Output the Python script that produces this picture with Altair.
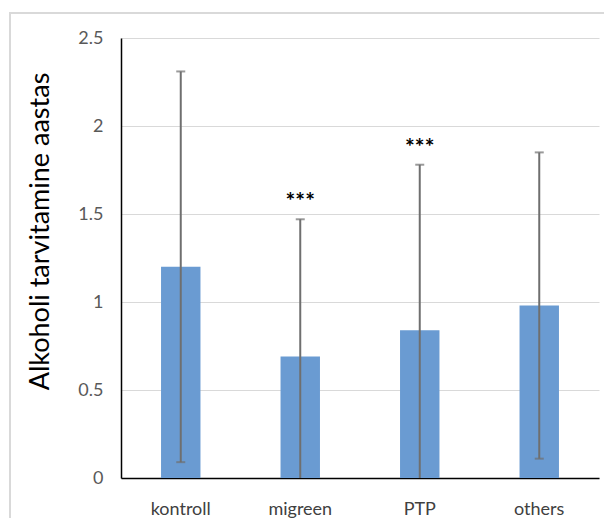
import altair as alt
import pandas as pd

categories = ["kontroll", "migreen", "PTP", "others"]
means = [1.20, 0.69, 0.84, 0.98]
sds = [1.11, 0.78, 0.94, 0.87]
sig = ["", "***", "***", ""]

df = pd.DataFrame({
    "group": categories,
    "mean": means,
    "lo": [m - s for m, s in zip(means, sds)],
    "hi": [m + s for m, s in zip(means, sds)],
    "sig": sig,
})

FONT = "Lato"
ERRC = "#6F6F6F"
yscale = alt.Scale(domain=[0, 2.5], nice=False)
xsort = alt.X("group:N", sort=categories)

xenc = alt.X("group:N", sort=categories,
             scale=alt.Scale(paddingInner=0.67, paddingOuter=0.335),
             axis=alt.Axis(title=None, labelAngle=0, labelFontSize=18, labelColor="#404040",
                           labelFont=FONT, labelPadding=22, ticks=False, domainColor="#000000",
                           domainWidth=1.5))

bars = alt.Chart(df).mark_bar(color="#6A9BD2").encode(
    x=xenc,
    y=alt.Y("mean:Q", scale=yscale,
            axis=alt.Axis(values=[0, 0.5, 1, 1.5, 2, 2.5], format="~g", ticks=False,
                          title="Alkoholi tarvitamine aastas", titleFontSize=27,
                          titleFont=FONT, titleFontWeight="normal", titleColor="#000000",
                          titleX=-81, titleY=193, titleBaseline="middle", titleAngle=270,
                          titleAlign="center",
                          labelFontSize=18, labelColor="#595959",
                          labelFont=FONT, labelPadding=18, gridColor="#D9D9D9",
                          gridWidth=1.2, domainColor="#000000", domainWidth=1.5)),
)

err = alt.Chart(df).mark_rule(color=ERRC, strokeWidth=2, clip=True).encode(
    x=xsort, y=alt.Y("lo:Q", scale=yscale), y2="hi:Q")
cap_hi = alt.Chart(df).mark_tick(color=ERRC, thickness=2, size=9).encode(
    x=xsort, y=alt.Y("hi:Q", scale=yscale))
cap_lo = alt.Chart(df).transform_filter("datum.lo >= 0").mark_tick(
    color=ERRC, thickness=2, size=9).encode(
    x=xsort, y=alt.Y("lo:Q", scale=yscale))
stars = alt.Chart(df).mark_text(fontSize=23, fontWeight="bold", baseline="alphabetic",
                                dy=-10, font=FONT, color="#000000").encode(
    x=xsort, y=alt.Y("hi:Q", scale=yscale), text="sig:N")

border = alt.Chart(df).mark_rect(fill=None, stroke="#D9D9D9", strokeWidth=1.5, clip=False).encode(
    x=alt.value(-111), x2=alt.value(700), y=alt.value(-25), y2=alt.value(700))

chart = alt.layer(border, bars, err, cap_hi, cap_lo, stars).properties(
    width=478, height=440,
    autosize=alt.AutoSizeParams(type="none"),
    padding={"left": 113, "top": 30, "right": 5, "bottom": 40},
).configure_view(stroke=None)

chart.save("out.html", embed_options={"renderer": "svg", "actions": False})
